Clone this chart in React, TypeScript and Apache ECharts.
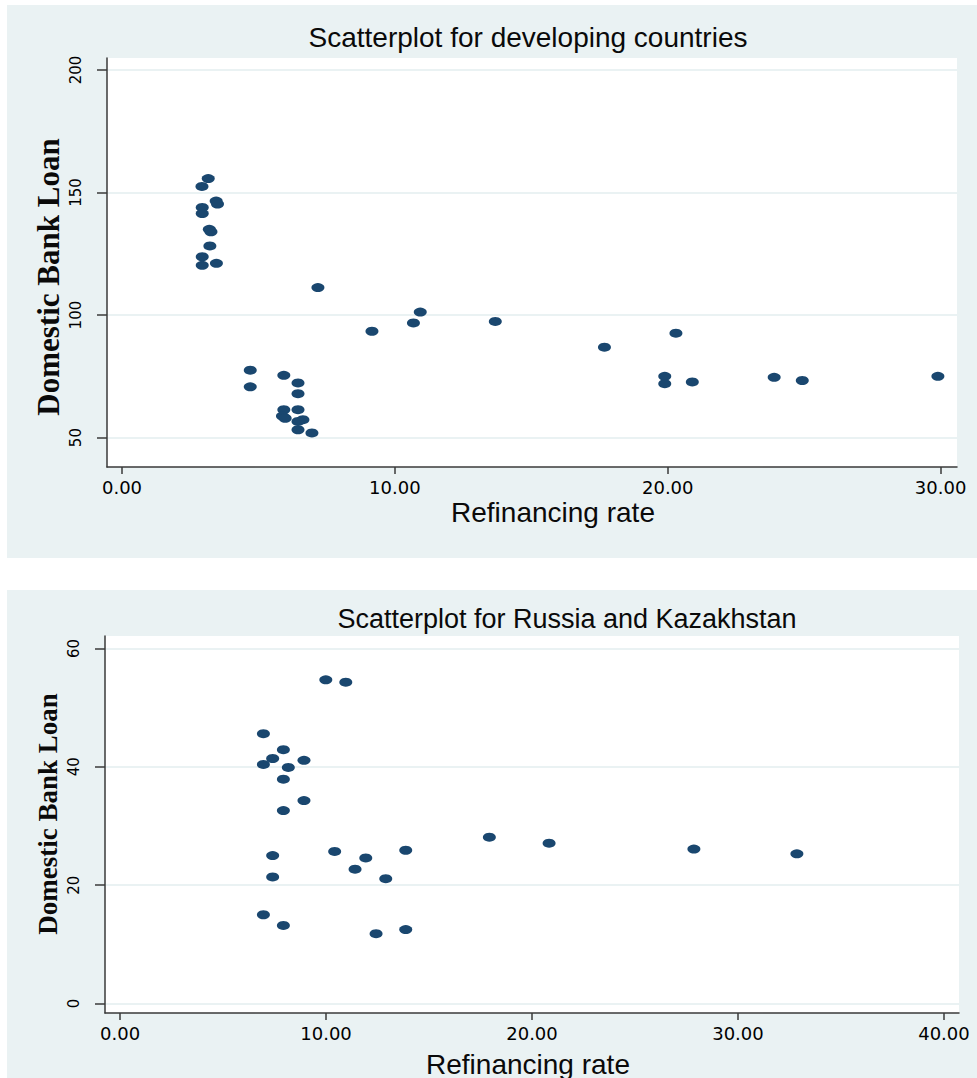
import React, { useEffect, useRef } from "react";
import * as echarts from "echarts";

// Developing countries: refinancing rate (%) vs domestic bank loan
const devRate = [
  3.16, 2.93, 3.45, 3.5, 2.94, 2.94, 3.2, 3.26, 3.22, 2.94, 2.94, 3.46,
  7.18, 9.16, 10.68, 10.93, 13.68, 4.7, 4.7, 5.93, 6.45, 6.45, 5.93, 5.88,
  5.98, 6.45, 6.63, 6.45, 6.45, 6.96, 17.68, 20.3, 19.89, 19.89, 20.9, 23.9,
  24.93, 29.9,
];
const devLoan = [
  155.7, 152.5, 146.5, 145.3, 143.9, 141.4, 135.0, 134.0, 128.2, 123.8, 120.3,
  121.1, 111.2, 93.4, 96.8, 101.2, 97.4, 77.5, 70.7, 75.4, 72.3, 67.9, 61.4,
  58.8, 57.9, 61.4, 57.3, 56.6, 53.2, 51.9, 86.9, 92.6, 75.0, 72.0, 72.7, 74.6,
  73.3, 75.0,
];

// Russia and Kazakhstan
const rkRate = [
  9.99, 10.96, 6.96, 7.93, 7.41, 6.96, 8.93, 8.17, 7.93, 8.93, 7.93, 17.93,
  10.42, 13.87, 7.41, 11.93, 11.41, 7.41, 12.9, 6.96, 7.93, 12.43, 13.87,
  20.83, 27.86, 32.86,
];
const rkLoan = [
  54.7, 54.3, 45.6, 42.9, 41.4, 40.4, 41.1, 39.9, 37.9, 34.3, 32.6, 28.1, 25.7,
  25.9, 25.0, 24.6, 22.7, 21.4, 21.1, 15.0, 13.2, 11.8, 12.5, 27.1, 26.1, 25.3,
];

const devXTicks = [0, 10, 20, 30];
const devYTicks = [50, 100, 150, 200];
const rkXTicks = [0, 10, 20, 30, 40];
const rkYTicks = [0, 20, 40, 60];

const titleTop = "Scatterplot for developing countries";
const titleBottom = "Scatterplot for Russia and Kazakhstan";
const xTitle = "Refinancing rate";
const yTitle = "Domestic Bank Loan";

const NAVY = "#1a476f";
const PANEL = "#eaf2f3";
const AXIS = "#3a3a3a";
const TEXT = "#0a0a0a";

function xAxisFor(gridIndex: number, min: number, max: number, ticks: number[]) {
  return {
    type: "value",
    gridIndex,
    min,
    max,
    axisLine: { show: true, onZero: false, lineStyle: { color: AXIS, width: 1.5 } },
    axisTick: { show: true, length: 7, customValues: ticks, lineStyle: { color: AXIS, width: 1.5 } },
    axisLabel: {
      customValues: ticks,
      formatter: (v: number) => v.toFixed(2),
      fontFamily: "DejaVu Sans",
      fontSize: 18,
      color: "#000",
      margin: 11,
    },
    splitLine: { show: false },
  };
}

function yAxisFor(gridIndex: number, min: number, max: number, ticks: number[]) {
  return {
    type: "value",
    gridIndex,
    min,
    max,
    axisLine: { show: true, onZero: false, lineStyle: { color: AXIS, width: 1.5 } },
    axisTick: { show: true, length: 10, customValues: ticks, lineStyle: { color: AXIS, width: 1.5 } },
    axisLabel: {
      customValues: ticks,
      rotate: 90,
      fontFamily: "DejaVu Sans",
      fontSize: 15,
      color: "#000",
      margin: 24,
    },
    splitLine: { show: true, lineStyle: { color: PANEL, width: 2 } },
  };
}

function pairs(xs: number[], ys: number[]) {
  return xs.map((x, i) => [x, ys[i]]);
}

export default function App() {
  const ref = useRef<HTMLDivElement>(null);

  useEffect(() => {
    if (!ref.current) return;
    const chart = echarts.init(ref.current, undefined, { renderer: "svg" });
    chart.setOption({
      animation: false,
      backgroundColor: "#ffffff",
      graphic: [
        { type: "rect", z: -10, shape: { x: 7, y: 5, width: 970, height: 553 }, style: { fill: PANEL } },
        { type: "rect", z: -10, shape: { x: 7, y: 590, width: 970, height: 488 }, style: { fill: PANEL } },
        {
          type: "text", x: 528, y: 37,
          style: { text: titleTop, fontFamily: "Liberation Sans", fontSize: 28, fill: TEXT, textAlign: "center", textVerticalAlign: "middle" },
        },
        {
          type: "text", x: 567, y: 619,
          style: { text: titleBottom, fontFamily: "Liberation Sans", fontSize: 27, fill: TEXT, textAlign: "center", textVerticalAlign: "middle" },
        },
        {
          type: "text", x: 553, y: 512,
          style: { text: xTitle, fontFamily: "Liberation Sans", fontSize: 28, fill: TEXT, textAlign: "center", textVerticalAlign: "middle" },
        },
        {
          type: "text", x: 528, y: 1064,
          style: { text: xTitle, fontFamily: "Liberation Sans", fontSize: 28, fill: TEXT, textAlign: "center", textVerticalAlign: "middle" },
        },
        {
          type: "text", x: 48, y: 277, rotation: Math.PI / 2,
          style: { text: yTitle, fontFamily: "Liberation Serif", fontWeight: "bold", fontSize: 31, fill: TEXT, textAlign: "center", textVerticalAlign: "middle" },
        },
        {
          type: "text", x: 48, y: 814, rotation: Math.PI / 2,
          style: { text: yTitle, fontFamily: "Liberation Serif", fontWeight: "bold", fontSize: 27, fill: TEXT, textAlign: "center", textVerticalAlign: "middle" },
        },
      ],
      grid: [
        { left: 107, top: 58, width: 850, height: 409, show: true, backgroundColor: "#ffffff", borderWidth: 0 },
        { left: 105, top: 636, width: 854, height: 377, show: true, backgroundColor: "#ffffff", borderWidth: 0 },
      ],
      xAxis: [xAxisFor(0, -0.55, 30.6, devXTicks), xAxisFor(1, -0.73, 40.73, rkXTicks)],
      yAxis: [yAxisFor(0, 38, 204.9, devYTicks), yAxisFor(1, -1.6, 62.1, rkYTicks)],
      series: [
        {
          type: "scatter", xAxisIndex: 0, yAxisIndex: 0,
          data: pairs(devRate, devLoan),
          symbol: "circle", symbolSize: [13, 9],
          itemStyle: { color: NAVY, opacity: 1 },
        },
        {
          type: "scatter", xAxisIndex: 1, yAxisIndex: 1,
          data: pairs(rkRate, rkLoan),
          symbol: "circle", symbolSize: [13, 9],
          itemStyle: { color: NAVY, opacity: 1 },
        },
      ],
    });
    return () => chart.dispose();
  }, []);

  return (
    <div
      ref={ref}
      style={{ position: "absolute", left: 0, top: 0, width: 977, height: 1078 }}
    />
  );
}
